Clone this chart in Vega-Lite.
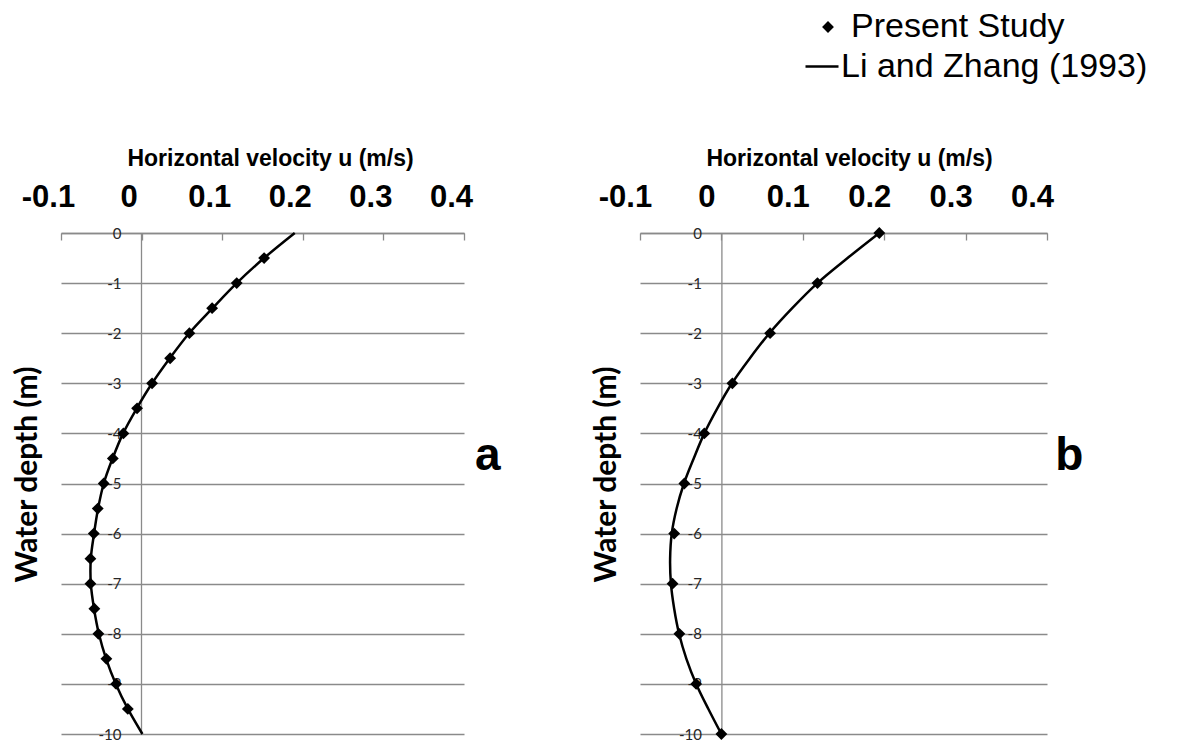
{
  "$schema": "https://vega.github.io/schema/vega-lite/v6.json",
  "background": "white",
  "padding": {"left": 12, "top": 10, "right": 0, "bottom": 0},
  "bounds": "flush",
  "spacing": 176,
  "config": {"view": {"stroke": null}},
  "datasets": {
    "a_points": [
      {"depth": -0.5, "u": 0.152, "series": "Present Study"},
      {"depth": -1, "u": 0.118, "series": "Present Study"},
      {"depth": -1.5, "u": 0.0875, "series": "Present Study"},
      {"depth": -2, "u": 0.0593, "series": "Present Study"},
      {"depth": -2.5, "u": 0.0354, "series": "Present Study"},
      {"depth": -3, "u": 0.013, "series": "Present Study"},
      {"depth": -3.5, "u": -0.0056, "series": "Present Study"},
      {"depth": -4, "u": -0.0226, "series": "Present Study"},
      {"depth": -4.5, "u": -0.0357, "series": "Present Study"},
      {"depth": -5, "u": -0.047, "series": "Present Study"},
      {"depth": -5.5, "u": -0.0544, "series": "Present Study"},
      {"depth": -6, "u": -0.0593, "series": "Present Study"},
      {"depth": -6.5, "u": -0.0635, "series": "Present Study"},
      {"depth": -7, "u": -0.0635, "series": "Present Study"},
      {"depth": -7.5, "u": -0.0586, "series": "Present Study"},
      {"depth": -8, "u": -0.0536, "series": "Present Study"},
      {"depth": -8.5, "u": -0.0437, "series": "Present Study"},
      {"depth": -9, "u": -0.0316, "series": "Present Study"},
      {"depth": -9.5, "u": -0.0171, "series": "Present Study"}
    ],
    "a_line": [
      {"depth": 0, "u": 0.19, "series": "Li and Zhang (1993)"},
      {"depth": -0.5, "u": 0.152, "series": "Li and Zhang (1993)"},
      {"depth": -1, "u": 0.118, "series": "Li and Zhang (1993)"},
      {"depth": -1.5, "u": 0.088, "series": "Li and Zhang (1993)"},
      {"depth": -2, "u": 0.059, "series": "Li and Zhang (1993)"},
      {"depth": -2.5, "u": 0.035, "series": "Li and Zhang (1993)"},
      {"depth": -3, "u": 0.013, "series": "Li and Zhang (1993)"},
      {"depth": -3.5, "u": -0.006, "series": "Li and Zhang (1993)"},
      {"depth": -4, "u": -0.023, "series": "Li and Zhang (1993)"},
      {"depth": -4.5, "u": -0.036, "series": "Li and Zhang (1993)"},
      {"depth": -5, "u": -0.047, "series": "Li and Zhang (1993)"},
      {"depth": -5.5, "u": -0.054, "series": "Li and Zhang (1993)"},
      {"depth": -6, "u": -0.059, "series": "Li and Zhang (1993)"},
      {"depth": -6.5, "u": -0.063, "series": "Li and Zhang (1993)"},
      {"depth": -7, "u": -0.063, "series": "Li and Zhang (1993)"},
      {"depth": -7.5, "u": -0.059, "series": "Li and Zhang (1993)"},
      {"depth": -8, "u": -0.053, "series": "Li and Zhang (1993)"},
      {"depth": -8.5, "u": -0.044, "series": "Li and Zhang (1993)"},
      {"depth": -9, "u": -0.032, "series": "Li and Zhang (1993)"},
      {"depth": -9.5, "u": -0.017, "series": "Li and Zhang (1993)"},
      {"depth": -10, "u": 0.001, "series": "Li and Zhang (1993)"}
    ],
    "b_points": [
      {"depth": 0, "u": 0.194}, {"depth": -1, "u": 0.118}, {"depth": -2, "u": 0.0598},
      {"depth": -3, "u": 0.0135}, {"depth": -4, "u": -0.021}, {"depth": -5, "u": -0.0455},
      {"depth": -6, "u": -0.058}, {"depth": -7, "u": -0.06}, {"depth": -8, "u": -0.0516},
      {"depth": -9, "u": -0.031}, {"depth": -10, "u": 0.0}
    ],
    "b_line": [
      {"depth": 0, "u": 0.194}, {"depth": -0.5, "u": 0.155}, {"depth": -1, "u": 0.118},
      {"depth": -1.5, "u": 0.087}, {"depth": -2, "u": 0.059}, {"depth": -2.5, "u": 0.035},
      {"depth": -3, "u": 0.013}, {"depth": -3.5, "u": -0.005}, {"depth": -4, "u": -0.021},
      {"depth": -4.5, "u": -0.034}, {"depth": -5, "u": -0.046}, {"depth": -5.5, "u": -0.055},
      {"depth": -6, "u": -0.061}, {"depth": -6.5, "u": -0.063}, {"depth": -7, "u": -0.062},
      {"depth": -7.5, "u": -0.058}, {"depth": -8, "u": -0.052}, {"depth": -8.5, "u": -0.043},
      {"depth": -9, "u": -0.031}, {"depth": -9.5, "u": -0.016}, {"depth": -10, "u": 0.0}
    ]
  },
  "hconcat": [
    {
      "width": 403,
      "height": 501,
      "layer": [
        {
          "data": {"name": "a_line"},
          "mark": {"type": "line", "interpolate": "catmull-rom", "strokeWidth": 2.5},
          "encoding": {
            "x": {
              "field": "u", "type": "quantitative",
              "scale": {"domain": [-0.1, 0.4], "nice": false, "zero": false},
              "axis": {
                "orient": "top", "values": [-0.1, 0, 0.1, 0.2, 0.3, 0.4],
                "labelExpr": "'' + datum.value", "grid": false,
                "domainColor": "#8a8a8a", "domainWidth": 1.3,
                "tickColor": "#8a8a8a", "tickSize": -7, "tickWidth": 1.3,
                "labelFont": "Liberation Sans", "labelFontWeight": "bold", "labelFontSize": 31,
                "labelColor": "black", "labelPadding": 27, "labelOffset": -13,
                "labelFlush": false, "labelOverlap": false,
                "title": "Horizontal velocity u (m/s)",
                "titleFont": "Liberation Sans", "titleFontWeight": "bold", "titleFontSize": 23,
                "titleColor": "black", "titleX": 209, "titleY": -68,
                "titleAlign": "center", "titleBaseline": "alphabetic"
              }
            },
            "y": {
              "field": "depth", "type": "quantitative",
              "scale": {"domain": [-10, 0], "nice": false, "zero": false},
              "axis": {
                "orient": "left", "offset": -80,
                "values": [0, -1, -2, -3, -4, -5, -6, -7, -8, -9, -10],
                "labelExpr": "'' + datum.value",
                "grid": true, "gridColor": "#8a8a8a", "gridWidth": 1.3,
                "domainColor": "#8a8a8a", "domainWidth": 1.3, "ticks": false,
                "labelFont": "Lato", "labelFontSize": 15, "labelColor": "#262626",
                "labelPadding": 20, "labelFlush": false, "labelOverlap": false,
                "title": "Water depth (m)", "titleFont": "Lato", "titleFontWeight": "bold",
                "titleFontSize": 30, "titleColor": "black", "titleAngle": -90,
                "titleX": -114, "titleY": 241, "titleAlign": "center", "titleBaseline": "middle"
              }
            },
            "color": {
              "field": "series", "type": "nominal",
              "scale": {"domain": ["Li and Zhang (1993)"], "range": ["black"]},
              "legend": {
                "orient": "none", "legendX": 743, "legendY": -184.5, "title": null,
                "labelFont": "Liberation Sans", "labelFontSize": 34, "labelColor": "black",
                "labelLimit": 600, "symbolType": "stroke", "symbolSize": 1089,
                "symbolStrokeWidth": 2.5, "symbolStrokeColor": "black",
                "labelOffset": 1, "padding": 0
              }
            },
            "order": {"field": "depth", "type": "quantitative"}
          }
        },
        {
          "data": {"name": "a_points"},
          "mark": {"type": "point", "filled": true, "color": "black", "size": 140, "opacity": 1},
          "encoding": {
            "x": {"field": "u", "type": "quantitative"},
            "y": {"field": "depth", "type": "quantitative"},
            "shape": {
              "field": "series", "type": "nominal",
              "scale": {"domain": ["Present Study"], "range": ["diamond"]},
              "legend": {
                "orient": "none", "legendX": 750, "legendY": -223, "title": null,
                "labelFont": "Liberation Sans", "labelFontSize": 34, "labelColor": "black",
                "labelLimit": 600, "symbolSize": 140,
                "symbolFillColor": "black", "symbolStrokeWidth": 0,
                "labelOffset": 6, "padding": 0
              }
            }
          }
        },
        {
          "data": {"values": [{}]},
          "mark": {"type": "text", "text": "a", "font": "Liberation Sans", "fontWeight": "bold", "fontSize": 46, "align": "left", "baseline": "alphabetic", "color": "black"},
          "encoding": {"x": {"datum": 0.4136}, "y": {"datum": -4.73}}
        }
      ]
    },
    {
      "width": 407,
      "height": 501,
      "layer": [
        {
          "data": {"name": "b_line"},
          "mark": {"type": "line", "interpolate": "catmull-rom", "color": "black", "strokeWidth": 2.5},
          "encoding": {
            "x": {
              "field": "u", "type": "quantitative",
              "scale": {"domain": [-0.1, 0.4], "nice": false, "zero": false},
              "axis": {
                "orient": "top", "values": [-0.1, 0, 0.1, 0.2, 0.3, 0.4],
                "labelExpr": "'' + datum.value", "grid": false,
                "domainColor": "#8a8a8a", "domainWidth": 1.3,
                "tickColor": "#8a8a8a", "tickSize": -7, "tickWidth": 1.3,
                "labelFont": "Liberation Sans", "labelFontWeight": "bold", "labelFontSize": 31,
                "labelColor": "black", "labelPadding": 27, "labelOffset": -15,
                "labelFlush": false, "labelOverlap": false,
                "title": "Horizontal velocity u (m/s)",
                "titleFont": "Liberation Sans", "titleFontWeight": "bold", "titleFontSize": 23,
                "titleColor": "black", "titleX": 209, "titleY": -68,
                "titleAlign": "center", "titleBaseline": "alphabetic"
              }
            },
            "y": {
              "field": "depth", "type": "quantitative",
              "scale": {"domain": [-10, 0], "nice": false, "zero": false},
              "axis": {
                "orient": "left", "offset": -81.4,
                "values": [0, -1, -2, -3, -4, -5, -6, -7, -8, -9, -10],
                "labelExpr": "'' + datum.value",
                "grid": true, "gridColor": "#8a8a8a", "gridWidth": 1.3,
                "domainColor": "#8a8a8a", "domainWidth": 1.3, "ticks": false,
                "labelFont": "Lato", "labelFontSize": 15, "labelColor": "#262626",
                "labelPadding": 20, "labelFlush": false, "labelOverlap": false,
                "title": "Water depth (m)", "titleFont": "Lato", "titleFontWeight": "bold",
                "titleFontSize": 30, "titleColor": "black", "titleAngle": -90,
                "titleX": -115, "titleY": 241, "titleAlign": "center", "titleBaseline": "middle"
              }
            },
            "order": {"field": "depth", "type": "quantitative"}
          }
        },
        {
          "data": {"name": "b_points"},
          "mark": {"type": "point", "filled": true, "color": "black", "size": 140, "opacity": 1, "shape": "diamond"},
          "encoding": {
            "x": {"field": "u", "type": "quantitative"},
            "y": {"field": "depth", "type": "quantitative"}
          }
        },
        {
          "data": {"values": [{}]},
          "mark": {"type": "text", "text": "b", "font": "Liberation Sans", "fontWeight": "bold", "fontSize": 46, "align": "left", "baseline": "alphabetic", "color": "black"},
          "encoding": {"x": {"datum": 0.41}, "y": {"datum": -4.74}}
        }
      ]
    }
  ]
}
